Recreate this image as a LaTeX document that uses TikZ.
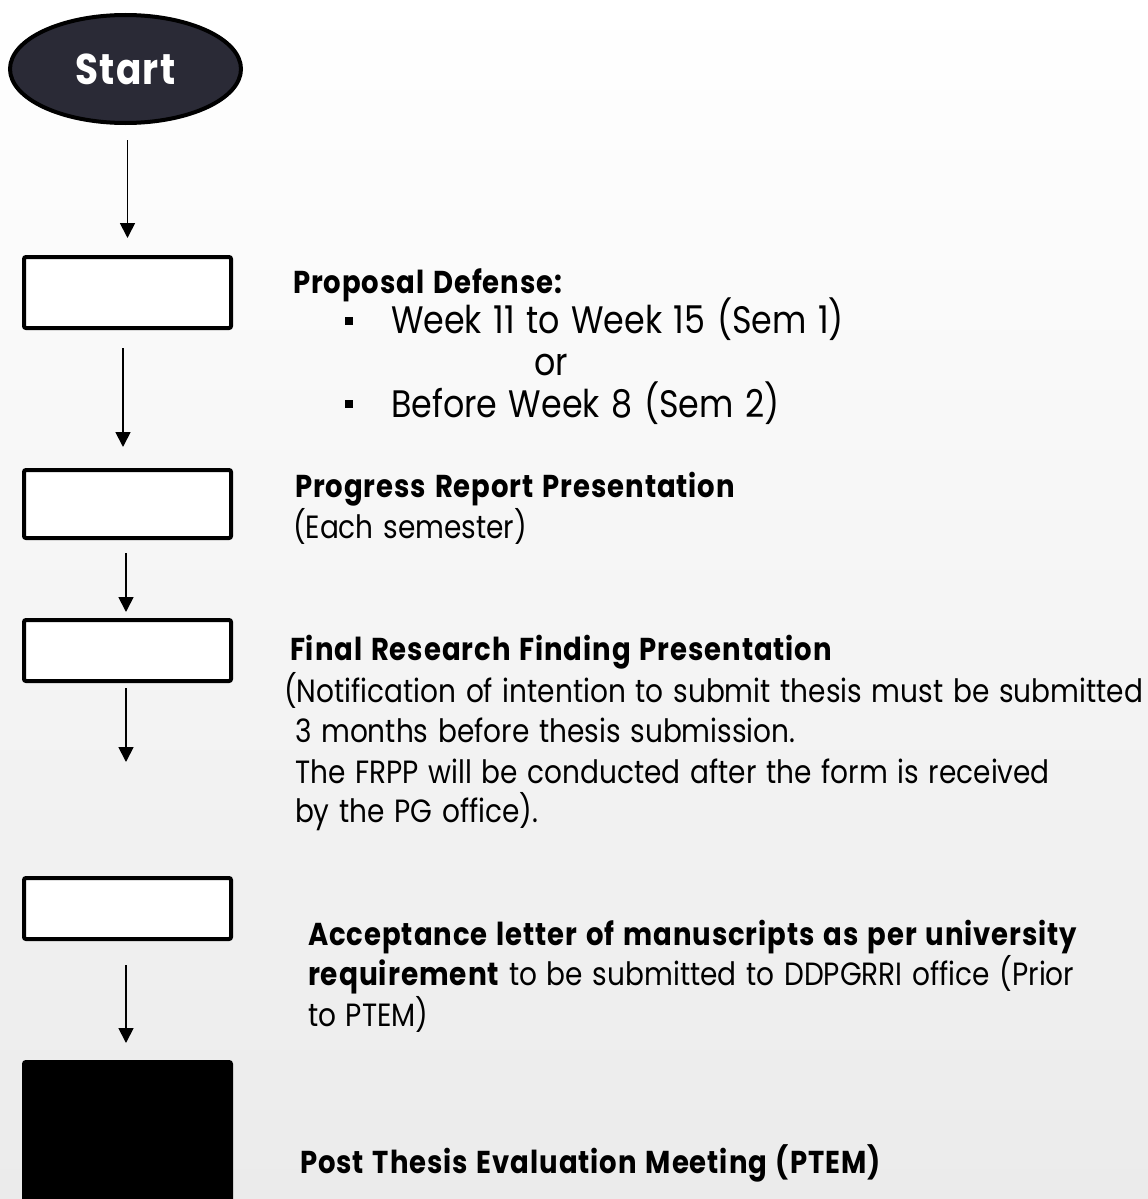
\documentclass[tikz,border=0pt]{standalone}
\usepackage{fontspec}
\setmainfont{Poppins}[FakeStretch=0.87, WordSpace=1.3, BoldFeatures={LetterSpace=3}]
\usetikzlibrary{arrows.meta,shapes.geometric}
\definecolor{navy}{HTML}{2A2A36}
\definecolor{bgbot}{HTML}{EBEBEB}
\newlength\fitlen
\newcommand\fitsize[4]{%
  \settowidth\fitlen{\fontsize{10pt}{12pt}\selectfont#2#4}%
  \pgfmathsetmacro#1{10*#3/\fitlen}}
\AtBeginDocument{%
  \fitsize\fsb{\bfseries}{440}{Progress Report Presentation}%
  \fitsize\fsr{}{859}{(Notification of intention to submit thesis must be submitted}%
  \fitsize\fsl{}{453}{Week 11 to Week 15 (Sem 1)}%
  \fitsize\fss{\bfseries}{100}{Start}}
\tikzset{
  box/.style={draw, line width=4pt, rounded corners=2pt, fill=white,
    minimum width=207pt, inner sep=0pt, outer sep=0pt},
  arr/.style={line width=1.8pt, -{Triangle[width=15pt,length=15pt]}},
  hd/.style={anchor=base west, inner sep=0pt, outer sep=0pt,
    font=\fontsize{\fsb}{\fsb}\selectfont\bfseries},
  bd/.style={anchor=base west, inner sep=0pt, outer sep=0pt,
    font=\fontsize{\fsr}{\fsr}\selectfont},
  bl/.style={anchor=base west, inner sep=0pt, outer sep=0pt,
    font=\fontsize{\fsl}{\fsl}\selectfont},
  bullet/.style={fill=black, minimum size=8.5pt, inner sep=0pt}
}
\begin{document}
\begin{tikzpicture}[x=1pt,y=-1pt]
\useasboundingbox (0,0) rectangle (1148,1199);
\shade[top color=white, bottom color=bgbot] (0,0) rectangle (1148,1199);

% start
\node[ellipse, draw, line width=4pt, fill=navy, minimum width=231pt,
  minimum height=108pt, inner sep=0pt, outer sep=0pt, text=white,
  font=\fontsize{\fss}{\fss}\selectfont\bfseries] (start) at (125.5,69) {Start};

% boxes
\node[box, minimum height=71pt] (b1) at (127.5,292.5) {};
\node[box, minimum height=68pt] (b2) at (127.5,504) {};
\node[box, minimum height=61pt] (b3) at (127.5,650.5) {};
\node[box, minimum height=61pt] (b4) at (127.5,908.5) {};
\node[box, fill=black, minimum height=145pt] (b5) at (127.5,1134.5) {};

% arrows
\draw[arr, shorten <=17pt, shorten >=19pt] (b1.north |- start.south) -- (b1.north);
\draw[arr, shorten <=20pt, shorten >=23pt] ([xshift=-4.5pt]b1.south) -- ([xshift=-4.5pt]b2.north);
\draw[arr, shorten <=15pt, shorten >=8pt] ([xshift=-1.5pt]b2.south) -- ([xshift=-1.5pt]b3.north);
\draw[arr, shorten <=7pt, shorten >=116pt] ([xshift=-1.5pt]b3.south) -- ([xshift=-1.5pt]b4.north);
\draw[arr, shorten <=26pt, shorten >=19pt] ([xshift=-1.5pt]b4.south) -- ([xshift=-1.5pt]b5.north);

% texts
\node[hd] (t1) at (293,293) {Proposal Defense:};
\node[bullet] (bu1) at (349,321) {};
\node[bl] (t2) at (391,333) {Week 11 to Week 15 (Sem 1)};
\node[bl] (t3) at (534,375) {or};
\node[bullet] (bu2) at (349,404) {};
\node[bl] (t4) at (391,417) {Before Week 8 (Sem 2)};

\node[hd] (t5) at (295,497) {Progress Report Presentation};
\node[bd] (t6) at (293,538) {(Each semester)};

\node[hd] (t7) at (290,660) {Final Research Finding Presentation};
\node[bd] (t8) at (284,702) {(Notification of intention to submit thesis must be submitted};
\node[bd] (t9) at (295,742) {3 months before thesis submission.};
\node[bd] (t10) at (295,783) {The FRPP will be conducted after the form is received};
\node[bd] (t11) at (295,822) {by the PG office).};

\node[hd] (t12) at (308,945) {Acceptance letter of manuscripts as per university};
\node[bd] (t13) at (308,985) {{\bfseries requirement} to be submitted to DDPGRRI office (Prior};
\node[bd] (t14) at (308,1026) {to PTEM)};

\node[hd] (t15) at (300,1173) {Post Thesis Evaluation Meeting (PTEM)};
\end{tikzpicture}
\end{document}
